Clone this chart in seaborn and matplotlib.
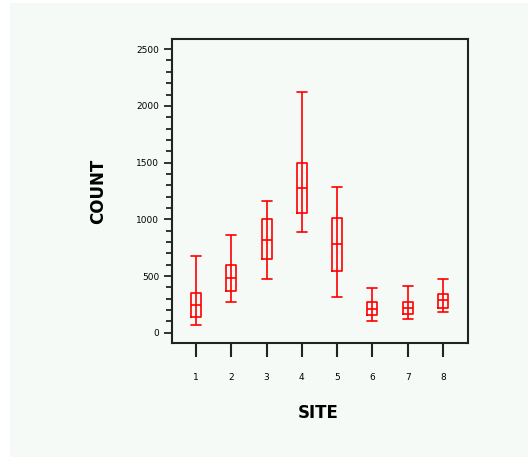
import numpy as np
import pandas as pd
import matplotlib
matplotlib.use("Agg")
import matplotlib.pyplot as plt
from matplotlib.patches import Rectangle
from matplotlib.ticker import MultipleLocator
import seaborn as sns

sites = ["1", "2", "3", "4", "5", "6", "7", "8"]
whisker_low = [65, 273, 471, 885, 315, 103, 118, 183]
q1 = [141, 365, 650, 1056, 547, 156, 168, 221]
median = [247, 482, 820, 1276, 780, 212, 221, 286]
q3 = [350, 600, 1003, 1499, 1014, 271, 271, 341]
whisker_high = [676, 859, 1159, 2123, 1288, 392, 415, 471]

rows = []
for i, s in enumerate(sites):
    for v in (whisker_low[i], q1[i], median[i], q3[i], whisker_high[i]):
        rows.append({"SITE": s, "COUNT": v})
df = pd.DataFrame(rows)

sns.set_style("white")
plt.rcParams["font.family"] = ["DejaVu Sans"]
plt.rcParams["text.color"] = "black"
plt.rcParams["axes.labelcolor"] = "black"
plt.rcParams["xtick.color"] = "black"
plt.rcParams["ytick.color"] = "black"

W, H = 530, 457
fig = plt.figure(figsize=(W / 100, H / 100), dpi=100)
fig.patch.set_facecolor("white")
bg = Rectangle((10 / W, 0), (528 - 10) / W, 1 - 3 / H,
               transform=fig.transFigure, facecolor="#f5faf7",
               edgecolor="none", zorder=-10)
fig.patches.append(bg)

ax = fig.add_axes([171.7 / W, 1 - 342.7 / H, (468 - 171.7) / W, (342.7 - 39.5) / H])
ax.set_zorder(1)
ax.set_facecolor("#f5faf7")

red = "#ff0000"
lw = 1.2
sns.boxplot(data=df, x="SITE", y="COUNT", order=sites, whis=(0, 100),
            fill=False, color=red, width=0.28, linewidth=lw, ax=ax,
            medianprops={"color": red, "linewidth": lw},
            capprops={"color": red, "linewidth": lw})

# caps as wide as boxes
for line in ax.lines:
    xd = np.asarray(line.get_xdata(), dtype=float)
    yd = np.asarray(line.get_ydata(), dtype=float)
    if len(xd) == 2 and yd[0] == yd[1] and xd[0] != xd[1]:
        c = xd.mean()
        line.set_xdata([c - 0.14, c + 0.14])

# whisker stem continues through the box
ax.vlines(np.arange(len(sites)), q1, q3, colors=red, linewidth=lw)

ax.set_xlim(-0.69, 7.71)
ax.set_ylim(-88, 2585)
ax.yaxis.set_major_locator(MultipleLocator(500))
ax.yaxis.set_minor_locator(MultipleLocator(100))
ax.yaxis.set_major_formatter(matplotlib.ticker.FuncFormatter(lambda v, p: f"{int(v)}"))

for sp in ax.spines.values():
    sp.set_visible(True)
    sp.set_color("#222222")
    sp.set_linewidth(1.5)

ax.tick_params(axis="y", which="major", direction="out", length=6, width=1.3,
               color="#222222", labelsize=6.5, pad=3, left=True)
ax.tick_params(axis="y", which="minor", direction="out", length=4, width=1.3,
               color="#222222", left=True)
ax.tick_params(axis="x", which="major", direction="out", length=10, width=1.5,
               color="#222222", labelsize=6.5, pad=12, bottom=True)

ax.set_ylabel("COUNT", fontsize=12, fontweight="bold", va="center")
ax.set_xlabel("SITE", fontsize=12, fontweight="bold", va="center")
ax.yaxis.set_label_coords((98 - 171.7) / (468 - 171.7), (342.7 - 191) / (342.7 - 39.5))
ax.xaxis.set_label_coords((318.5 - 171.7) / (468 - 171.7), (342.7 - 413) / (342.7 - 39.5))

fig.savefig("out.png", dpi=100)
